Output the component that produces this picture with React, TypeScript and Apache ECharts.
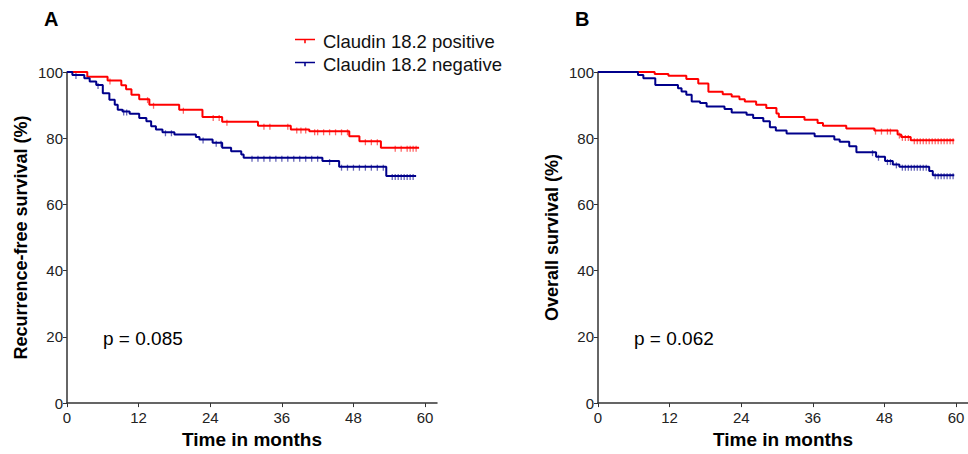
import React, { useEffect, useRef } from "react";
import * as echarts from "echarts";

// ---- Data (time in months, survival %) ----
const rfsPosTimes = [0, 3.4, 6.8, 9.1, 9.9, 10.8, 12.1, 13.8, 18.8, 22.7, 26, 32, 37.5, 40.6, 47.3, 49, 52.6, 59];
const rfsPosSurv = [100, 98.6, 97.4, 96, 94.8, 93.1, 91.8, 90.1, 88.6, 86.4, 85, 83.8, 82.6, 82.1, 80.6, 79.1, 77.1, 77.1];
const rfsNegTimes = [0, 0.9, 2.9, 3.8, 4.9, 6, 7.1, 8, 8.5, 9.3, 10.5, 12.1, 13.3, 14.1, 14.9, 16, 18, 21.6, 22.2, 24.4, 26, 27.5, 29.2, 29.6, 42.8, 45.6, 53.5, 58.5];
const rfsNegSurv = [100, 99.1, 98.1, 97.1, 96.1, 93.6, 91.6, 90.1, 88.6, 88.1, 87.4, 86.1, 85.1, 83.6, 82.6, 81.8, 81.1, 80.4, 79.6, 78.6, 77.1, 76.1, 75.1, 74.1, 73.1, 71.4, 68.6, 68.6];
const osPosTimes = [0, 9.5, 11.8, 14.8, 16.8, 18.5, 20.9, 22.4, 23.7, 24.6, 26.5, 28.2, 29.9, 30.3, 34.6, 36.8, 37.7, 41.6, 46.3, 50.2, 50.8, 52.4, 59.7];
const osPosSurv = [100, 99.4, 98.9, 97.9, 96.5, 94, 93.3, 92.6, 91.8, 91.1, 90.1, 89.1, 87.5, 86.4, 85.6, 84.6, 83.8, 82.9, 82.3, 81.1, 80.4, 79.4, 79.4];
const osNegTimes = [0, 6.7, 7.6, 9.6, 13.4, 14, 14.8, 15.7, 17.1, 18.2, 21.2, 22.4, 24.9, 26, 27.7, 28.8, 29.8, 31.6, 36.3, 39.6, 40.5, 42.1, 43.3, 46.6, 48.1, 49.4, 50.5, 55.5, 56.1, 59.7];
const osNegSurv = [100, 99.1, 98.1, 96.1, 95.1, 94.1, 93.1, 91.1, 90.6, 89.6, 88.8, 87.8, 87.1, 86.1, 85.1, 83.3, 82.3, 81.4, 80.6, 79.6, 78.9, 77.6, 75.8, 74.4, 73.1, 72.1, 71.4, 70.1, 68.8, 68.8];

// censoring times
const rfsPosCensor = [7.2, 13.5, 14.5, 19.5, 24.5, 25.5, 26.8, 33, 34, 37, 38.5, 39.2, 40, 41.5, 42, 43, 44, 45, 46, 47, 50, 51, 52, 55, 56, 57, 57.5, 58, 58.5];
const rfsNegCensor = [1.5, 5.2, 9.5, 10, 16.5, 17.5, 22.8, 25, 25.8, 31, 32, 33, 34, 35, 36, 37, 38, 39, 40, 41, 42, 44, 46, 47, 48, 49, 50, 51, 52, 53, 54.5, 55, 55.5, 56, 56.5, 57, 57.5, 58];
const osPosCensor = [46.5, 47.5, 48.5, 49, 50.5, 51, 51.5, 52, 53, 53.5, 54, 54.5, 55, 55.5, 56, 56.5, 57, 57.5, 58, 58.5, 59, 59.5];
const osNegCensor = [46, 47, 48.5, 49, 50, 51, 51.5, 52, 52.5, 53, 53.5, 54, 54.5, 55, 56.5, 57, 57.5, 58, 58.5, 59, 59.5];

const xTicks = [0, 12, 24, 36, 48, 60];
const posName = "Claudin 18.2 positive";
const negName = "Claudin 18.2 negative";
const pValues = ["p = 0.085", "p = 0.062"];
const yNames = ["Recurrence-free survival (%)", "Overall survival (%)"];
const panelLabels = ["A", "B"];

const RED = "#ff0000";
const BLUE = "#00008b";
const FONT = "Liberation Sans, Arial, sans-serif";

function pairs(t: number[], v: number[]) {
  return t.map((x, i) => [x, v[i]]);
}
function survAt(t: number[], v: number[], x: number) {
  let s = v[0];
  for (let i = 0; i < t.length; i++) if (t[i] <= x) s = v[i];
  return s;
}
function censorPts(c: number[], t: number[], v: number[]) {
  return c.map((x) => [x, survAt(t, v, x)]);
}

export default function App() {
  const ref = useRef<HTMLDivElement>(null);
  useEffect(() => {
    document.body.style.margin = "0";
    document.body.style.overflow = "hidden";
    if (!ref.current) return;
    const chart = echarts.init(ref.current, undefined, { renderer: "svg" });
    const grids = [
      { left: 67, top: 72, width: 370, bottom: 49 },
      { left: 598, top: 72, width: 370, bottom: 49 },
    ];
    const xAxes = [0, 1].map((i) => ({
      type: "value",
      gridIndex: i,
      min: 0,
      max: 62,
      interval: 12,
      name: "Time in months",
      nameLocation: "middle",
      nameGap: 25,
      nameTextStyle: { fontFamily: FONT, fontSize: 19, fontWeight: "bold", color: "#000" },
      splitLine: { show: false },
      axisLine: { lineStyle: { color: "#333", width: 1.5 } },
      axisTick: { customValues: xTicks, length: 4, lineStyle: { color: "#333" } },
      axisLabel: { customValues: xTicks, fontFamily: FONT, fontSize: 15, color: "#222", margin: 7 },
    }));
    const yAxes = [0, 1].map((i) => ({
      type: "value",
      gridIndex: i,
      min: 0,
      max: 100,
      interval: 20,
      name: yNames[i],
      nameLocation: "middle",
      nameGap: 37,
      nameTextStyle: { fontFamily: FONT, fontSize: 18, fontWeight: "bold", color: "#000" },
      splitLine: { show: false },
      axisLine: { show: true, lineStyle: { color: "#333", width: 1.5 } },
      axisTick: { show: true, length: 4, lineStyle: { color: "#333" } },
      axisLabel: { fontFamily: FONT, fontSize: 15, color: "#222", margin: 4 },
    }));
    const lineSeries = (name: string, idx: number, t: number[], v: number[], color: string) => ({
      type: "line",
      name,
      xAxisIndex: idx,
      yAxisIndex: idx,
      step: "end",
      data: pairs(t, v),
      showSymbol: false,
      symbol: "none",
      lineStyle: { color, width: 2 },
      itemStyle: { color },
      z: 3,
    });
    const censorSeries = (name: string, idx: number, c: number[], t: number[], v: number[], color: string) => ({
      type: "scatter",
      name,
      xAxisIndex: idx,
      yAxisIndex: idx,
      data: censorPts(c, t, v),
      symbol: "rect",
      symbolSize: [1.3, 6],
      symbolOffset: [0, 1],
      itemStyle: { color, opacity: 0.6 },
      silent: true,
      z: 2,
    });
    chart.setOption({
      animation: false,
      grid: grids,
      xAxis: xAxes,
      yAxis: yAxes,
      legend: {
        orient: "vertical",
        left: 290,
        top: 26,
        itemWidth: 20,
        itemHeight: 9,
        itemGap: 3,
        icon: "path://M0,4H26V6H0Z M12,6H14V10H12Z",
        data: [posName, negName],
        textStyle: { fontFamily: FONT, fontSize: 18.5, lineHeight: 20, color: "#111", padding: [0, 0, 0, 3] },
      },
      graphic: [
        ...panelLabels.map((s, i) => ({
          type: "text",
          left: i === 0 ? 44 : 575,
          top: 9,
          style: { text: s, font: `bold 20px ${FONT}`, fill: "#000" },
        })),
        ...pValues.map((s, i) => ({
          type: "text",
          left: i === 0 ? 103 : 634,
          top: 329,
          style: { text: s, font: `19px ${FONT}`, fill: "#000" },
        })),
      ],
      series: [
        lineSeries(posName, 0, rfsPosTimes, rfsPosSurv, RED),
        lineSeries(negName, 0, rfsNegTimes, rfsNegSurv, BLUE),
        lineSeries(posName, 1, osPosTimes, osPosSurv, RED),
        lineSeries(negName, 1, osNegTimes, osNegSurv, BLUE),
        censorSeries("c1", 0, rfsPosCensor, rfsPosTimes, rfsPosSurv, RED),
        censorSeries("c2", 0, rfsNegCensor, rfsNegTimes, rfsNegSurv, BLUE),
        censorSeries("c3", 1, osPosCensor, osPosTimes, osPosSurv, RED),
        censorSeries("c4", 1, osNegCensor, osNegTimes, osNegSurv, BLUE),
      ],
    });
    return () => chart.dispose();
  }, []);
  return <div ref={ref} style={{ width: 968, height: 454 }} />;
}
